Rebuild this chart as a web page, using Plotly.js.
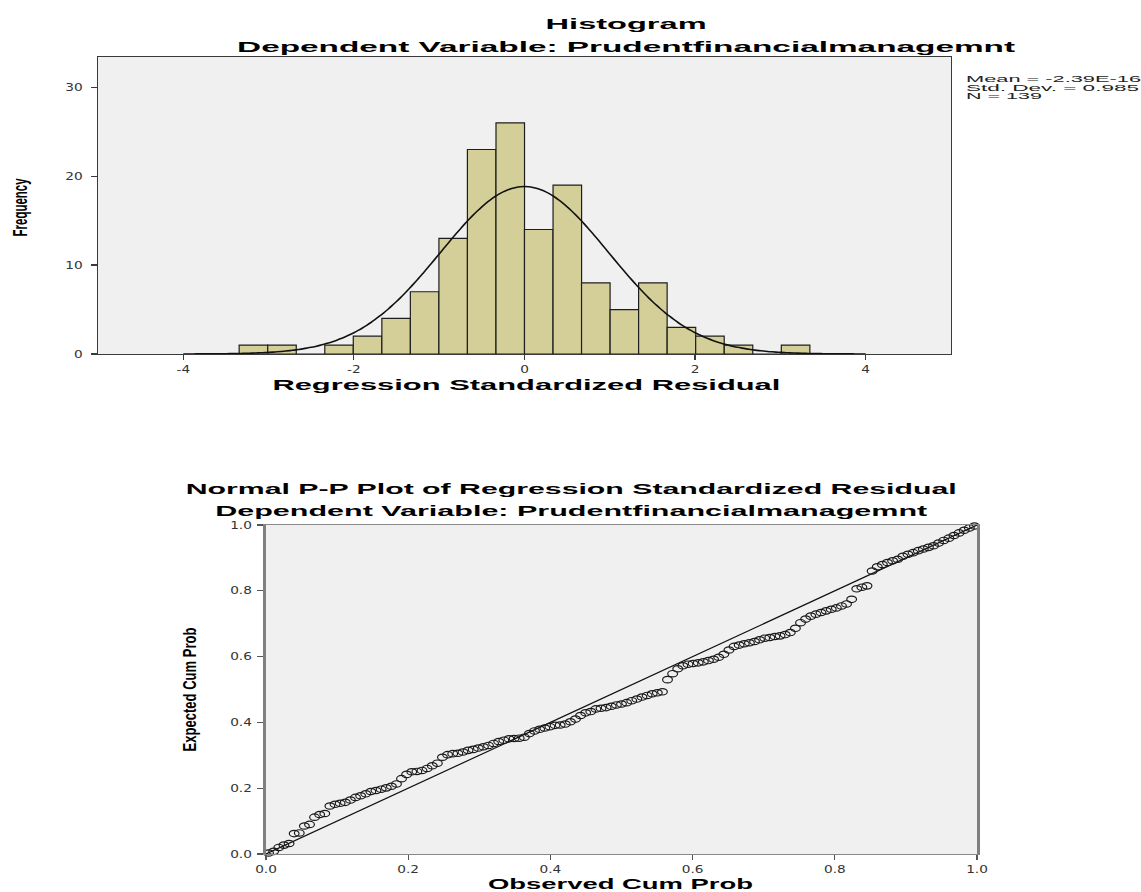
<!DOCTYPE html>
<html>
<head>
<meta charset="utf-8">
<script src="https://cdn.plot.ly/plotly-3.0.1.min.js"></script>
<style>
html,body{margin:0;padding:0;background:#ffffff;}
#chart{width:1141px;height:892px;}
</style>
</head>
<body>
<div id="chart"></div>
<script>
// ---------------- DATA ----------------
const binCenters = [-3.178, -2.843, -2.509, -2.174, -1.840, -1.505, -1.171, -0.836, -0.502, -0.167,
                     0.167,  0.502,  0.836,  1.171,  1.505,  1.840,  2.174,  2.509,  2.843,  3.178];
const binCounts  = [1, 1, 0, 1, 2, 4, 7, 13, 23, 26, 14, 19, 8, 5, 8, 3, 2, 1, 0, 1];
const binWidth   = 0.3345;

const meanVal = -2.39e-16;
const sdVal   = 0.985;
const nVal    = 139;

const histXTickVals = [-4, -2, 0, 2, 4];
const histXTickText = ['-4', '-2', '0', '2', '4'];
const histYTickVals = [0, 10, 20, 30];
const histYTickText = ['0', '10', '20', '30'];

const ppObserved = [
  0.0036,0.0108,0.0180,0.0252,0.0324,0.0396,0.0468,0.0540,0.0612,0.0683,
  0.0755,0.0827,0.0899,0.0971,0.1043,0.1115,0.1187,0.1259,0.1331,0.1403,
  0.1475,0.1547,0.1619,0.1691,0.1763,0.1835,0.1906,0.1978,0.2050,0.2122,
  0.2194,0.2266,0.2338,0.2410,0.2482,0.2554,0.2626,0.2698,0.2770,0.2842,
  0.2914,0.2986,0.3058,0.3129,0.3201,0.3273,0.3345,0.3417,0.3489,0.3561,
  0.3633,0.3705,0.3777,0.3849,0.3921,0.3993,0.4065,0.4137,0.4209,0.4281,
  0.4353,0.4424,0.4496,0.4568,0.4640,0.4712,0.4784,0.4856,0.4928,0.5000,
  0.5072,0.5144,0.5216,0.5288,0.5360,0.5432,0.5504,0.5576,0.5647,0.5719,
  0.5791,0.5863,0.5935,0.6007,0.6079,0.6151,0.6223,0.6295,0.6367,0.6439,
  0.6511,0.6583,0.6655,0.6727,0.6799,0.6871,0.6942,0.7014,0.7086,0.7158,
  0.7230,0.7302,0.7374,0.7446,0.7518,0.7590,0.7662,0.7734,0.7806,0.7878,
  0.7950,0.8022,0.8094,0.8165,0.8237,0.8309,0.8381,0.8453,0.8525,0.8597,
  0.8669,0.8741,0.8813,0.8885,0.8957,0.9029,0.9101,0.9173,0.9245,0.9317,
  0.9388,0.9460,0.9532,0.9604,0.9676,0.9748,0.9820,0.9892,0.9964
];
const ppExpected = [
  0.003,0.008,0.020,0.027,0.032,0.062,0.064,0.085,0.090,0.112,
  0.120,0.123,0.146,0.151,0.154,0.157,0.164,0.172,0.177,0.183,
  0.190,0.193,0.197,0.201,0.206,0.213,0.229,0.242,0.250,0.251,
  0.254,0.260,0.268,0.276,0.294,0.302,0.305,0.306,0.310,0.315,
  0.318,0.322,0.326,0.330,0.336,0.342,0.346,0.350,0.351,0.352,
  0.355,0.366,0.374,0.379,0.383,0.387,0.391,0.392,0.395,0.402,
  0.410,0.421,0.429,0.433,0.441,0.443,0.445,0.449,0.453,0.456,
  0.460,0.466,0.471,0.477,0.482,0.487,0.490,0.493,0.530,0.548,
  0.563,0.572,0.577,0.579,0.581,0.584,0.588,0.592,0.598,0.607,
  0.620,0.631,0.635,0.639,0.642,0.646,0.651,0.656,0.658,0.661,
  0.663,0.667,0.673,0.686,0.703,0.714,0.723,0.729,0.734,0.739,
  0.744,0.748,0.754,0.760,0.774,0.806,0.811,0.815,0.860,0.873,
  0.880,0.886,0.891,0.896,0.905,0.911,0.916,0.922,0.927,0.932,
  0.937,0.945,0.953,0.960,0.968,0.976,0.984,0.991,0.997
];
const ppTickVals = [0, 0.2, 0.4, 0.6, 0.8, 1.0];
const ppTickText = ['0.0', '0.2', '0.4', '0.6', '0.8', '1.0'];
const refLineX = [0, 1];
const refLineY = [0, 1];

const histTitle   = 'Histogram';
const depVarTitle = 'Dependent Variable: Prudentfinancialmanagemnt';
const histXTitle  = 'Regression Standardized Residual';
const histYTitle  = 'Frequency';
const statsLines  = ['Mean = -2.39E-16', 'Std. Dev. = 0.985', 'N = 139'];
const ppTitle     = 'Normal P-P Plot of Regression Standardized Residual';
const ppXTitle    = 'Observed Cum Prob';
const ppYTitle    = 'Expected Cum Prob';

// ---------------- fitted normal curve (from mean / sd / N) ----------------
const curveX = [], curveY = [];
for (let v = -4.0; v <= 4.0001; v += 0.05) {
  const z = (v - meanVal) / sdVal;
  curveX.push(v);
  curveY.push(nVal * binWidth * Math.exp(-0.5 * z * z) / (sdVal * Math.sqrt(2 * Math.PI)));
}

// ---------------- LAYOUT helpers ----------------
const W = 1141, H = 892;
const fx = p => p / W;
const fy = p => 1 - p / H;

const SANS = 'Liberation Sans, Arial, Helvetica, sans-serif';
const NARROW = 'Liberation Sans Narrow, Arial Narrow, Liberation Sans, sans-serif';
const tickFont = {family: 'DejaVu Sans, Liberation Sans, sans-serif', size: 10.5, color: '#333333'};

const data = [
  {type: 'bar', x: binCenters, y: binCounts, width: binWidth, xaxis: 'x', yaxis: 'y',
   marker: {color: '#D4CF98', line: {color: '#1e1e1e', width: 1.2}}, hoverinfo: 'skip'},
  {type: 'scatter', mode: 'lines', x: curveX, y: curveY, xaxis: 'x', yaxis: 'y',
   line: {color: '#111111', width: 1.6, shape: 'spline'}, hoverinfo: 'skip'},
  {type: 'scatter', mode: 'lines', x: refLineX, y: refLineY, xaxis: 'x2', yaxis: 'y2',
   line: {color: '#111111', width: 1.2}, hoverinfo: 'skip'},
  {type: 'scatter', mode: 'markers', x: ppObserved, y: ppExpected, xaxis: 'x2', yaxis: 'y2',
   cliponaxis: false,
   marker: {symbol: 'circle-open', size: 7.5, color: '#1a1a1a', line: {width: 1.2}}, hoverinfo: 'skip'}
];

function ann(text, x, y, size, opts) {
  opts = opts || {};
  return Object.assign({
    text: text, xref: 'paper', yref: 'paper', x: fx(x), y: fy(y),
    xanchor: 'center', yanchor: 'middle', showarrow: false, borderpad: 0,
    font: {family: SANS, size: size, color: '#000000', weight: 'bold'}
  }, opts);
}
const statFont = {family: SANS, size: 9, color: '#222'};
const vertFont = {family: NARROW, size: 20, color: '#000', weight: 'bold'};

// target rendered widths (px) for each annotation, in the same order
const annSpecs = [
  [ann(histTitle, 626, 23, 15), 161],
  [ann(depVarTitle, 626, 47, 15), 778],
  [ann(statsLines[0], 965, 79, 9, {xanchor: 'left', align: 'left', font: statFont}), 175],
  [ann(statsLines[1], 965, 87.5, 9, {xanchor: 'left', align: 'left', font: statFont}), 173],
  [ann(statsLines[2], 965, 96, 9, {xanchor: 'left', align: 'left', font: statFont}), 76],
  [ann(histYTitle, 20, 207, 20, {textangle: -90, font: vertFont}), 58],
  [ann(histXTitle, 526, 384, 15), 508],
  [ann(ppTitle, 571, 488, 15), 771],
  [ann(depVarTitle, 571, 511, 14.5), 712],
  [ann(ppYTitle, 190, 690, 18, {textangle: -90, font: Object.assign({}, vertFont, {size: 18})}), 124],
  [ann(ppXTitle, 620, 883, 15), 265]
];

const layout = {
  width: W, height: H,
  margin: {l: 0, r: 0, t: 0, b: 0},
  paper_bgcolor: '#ffffff',
  plot_bgcolor: '#F0F0F0',
  showlegend: false,
  bargap: 0,
  xaxis: {domain: [fx(98), fx(951)], range: [-5, 5], anchor: 'y',
          showgrid: false, zeroline: false, showline: true, mirror: true,
          linecolor: '#3a3a3a', linewidth: 1.2,
          ticks: 'outside', ticklen: 5, tickcolor: '#3a3a3a', tickwidth: 1.2,
          tickvals: histXTickVals, ticktext: histXTickText, tickfont: tickFont, ticklabelstandoff: 0},
  yaxis: {domain: [fy(354), fy(57)], range: [0, 33.4], anchor: 'x',
          showgrid: false, zeroline: false, showline: true, mirror: true,
          linecolor: '#3a3a3a', linewidth: 1.2,
          ticks: 'outside', ticklen: 6, tickcolor: '#3a3a3a', tickwidth: 1.2,
          tickvals: histYTickVals, ticktext: histYTickText, tickfont: tickFont, ticklabelstandoff: 6},
  xaxis2: {domain: [fx(266), fx(977)], range: [0, 1], anchor: 'y2',
           showgrid: false, zeroline: false, showline: true, mirror: true,
           linecolor: '#8a8a8a', linewidth: 1.2,
           ticks: 'outside', ticklen: 5, tickcolor: '#555', tickwidth: 1.2,
           tickvals: ppTickVals, ticktext: ppTickText, tickfont: tickFont, ticklabelstandoff: 0},
  yaxis2: {domain: [fy(854), fy(525)], range: [0, 1], anchor: 'x2',
           showgrid: false, zeroline: false, showline: true, mirror: true,
           linecolor: '#7f7f7f', linewidth: 3,
           ticks: 'outside', ticklen: 6, tickcolor: '#555', tickwidth: 1.2,
           tickvals: ppTickVals, ticktext: ppTickText, tickfont: tickFont, ticklabelstandoff: 3},
  annotations: annSpecs.map(s => s[0])
};

Plotly.newPlot('chart', data, layout, {staticPlot: true, displayModeBar: false, responsive: false})
.then(gd => {
  // stretch titles horizontally, as in the reference picture
  const groups = gd.querySelectorAll('.annotation');
  groups.forEach((g, i) => {
    const t = g.querySelector('text');
    const w = annSpecs[i] && annSpecs[i][1];
    if (t && w) {
      t.setAttribute('textLength', w);
      t.setAttribute('lengthAdjust', 'spacingAndGlyphs');
    }
  });
  // widen tick labels slightly
  gd.querySelectorAll('.xtick text, .ytick text, .x2tick text, .y2tick text').forEach(t => {
    try {
      const len = t.getComputedTextLength();
      t.setAttribute('textLength', (len * 1.3).toFixed(1));
      t.setAttribute('lengthAdjust', 'spacingAndGlyphs');
    } catch (e) {}
  });
  // P-P markers appear as wide ellipses in the reference
  gd.querySelectorAll('.subplot.x2y2 .scatterlayer path.point').forEach(p => {
    const tr = p.getAttribute('transform') || '';
    p.setAttribute('transform', tr + ' scale(1.3,0.85)');
    p.style.vectorEffect = 'non-scaling-stroke';
  });
});
</script>
</body>
</html>
